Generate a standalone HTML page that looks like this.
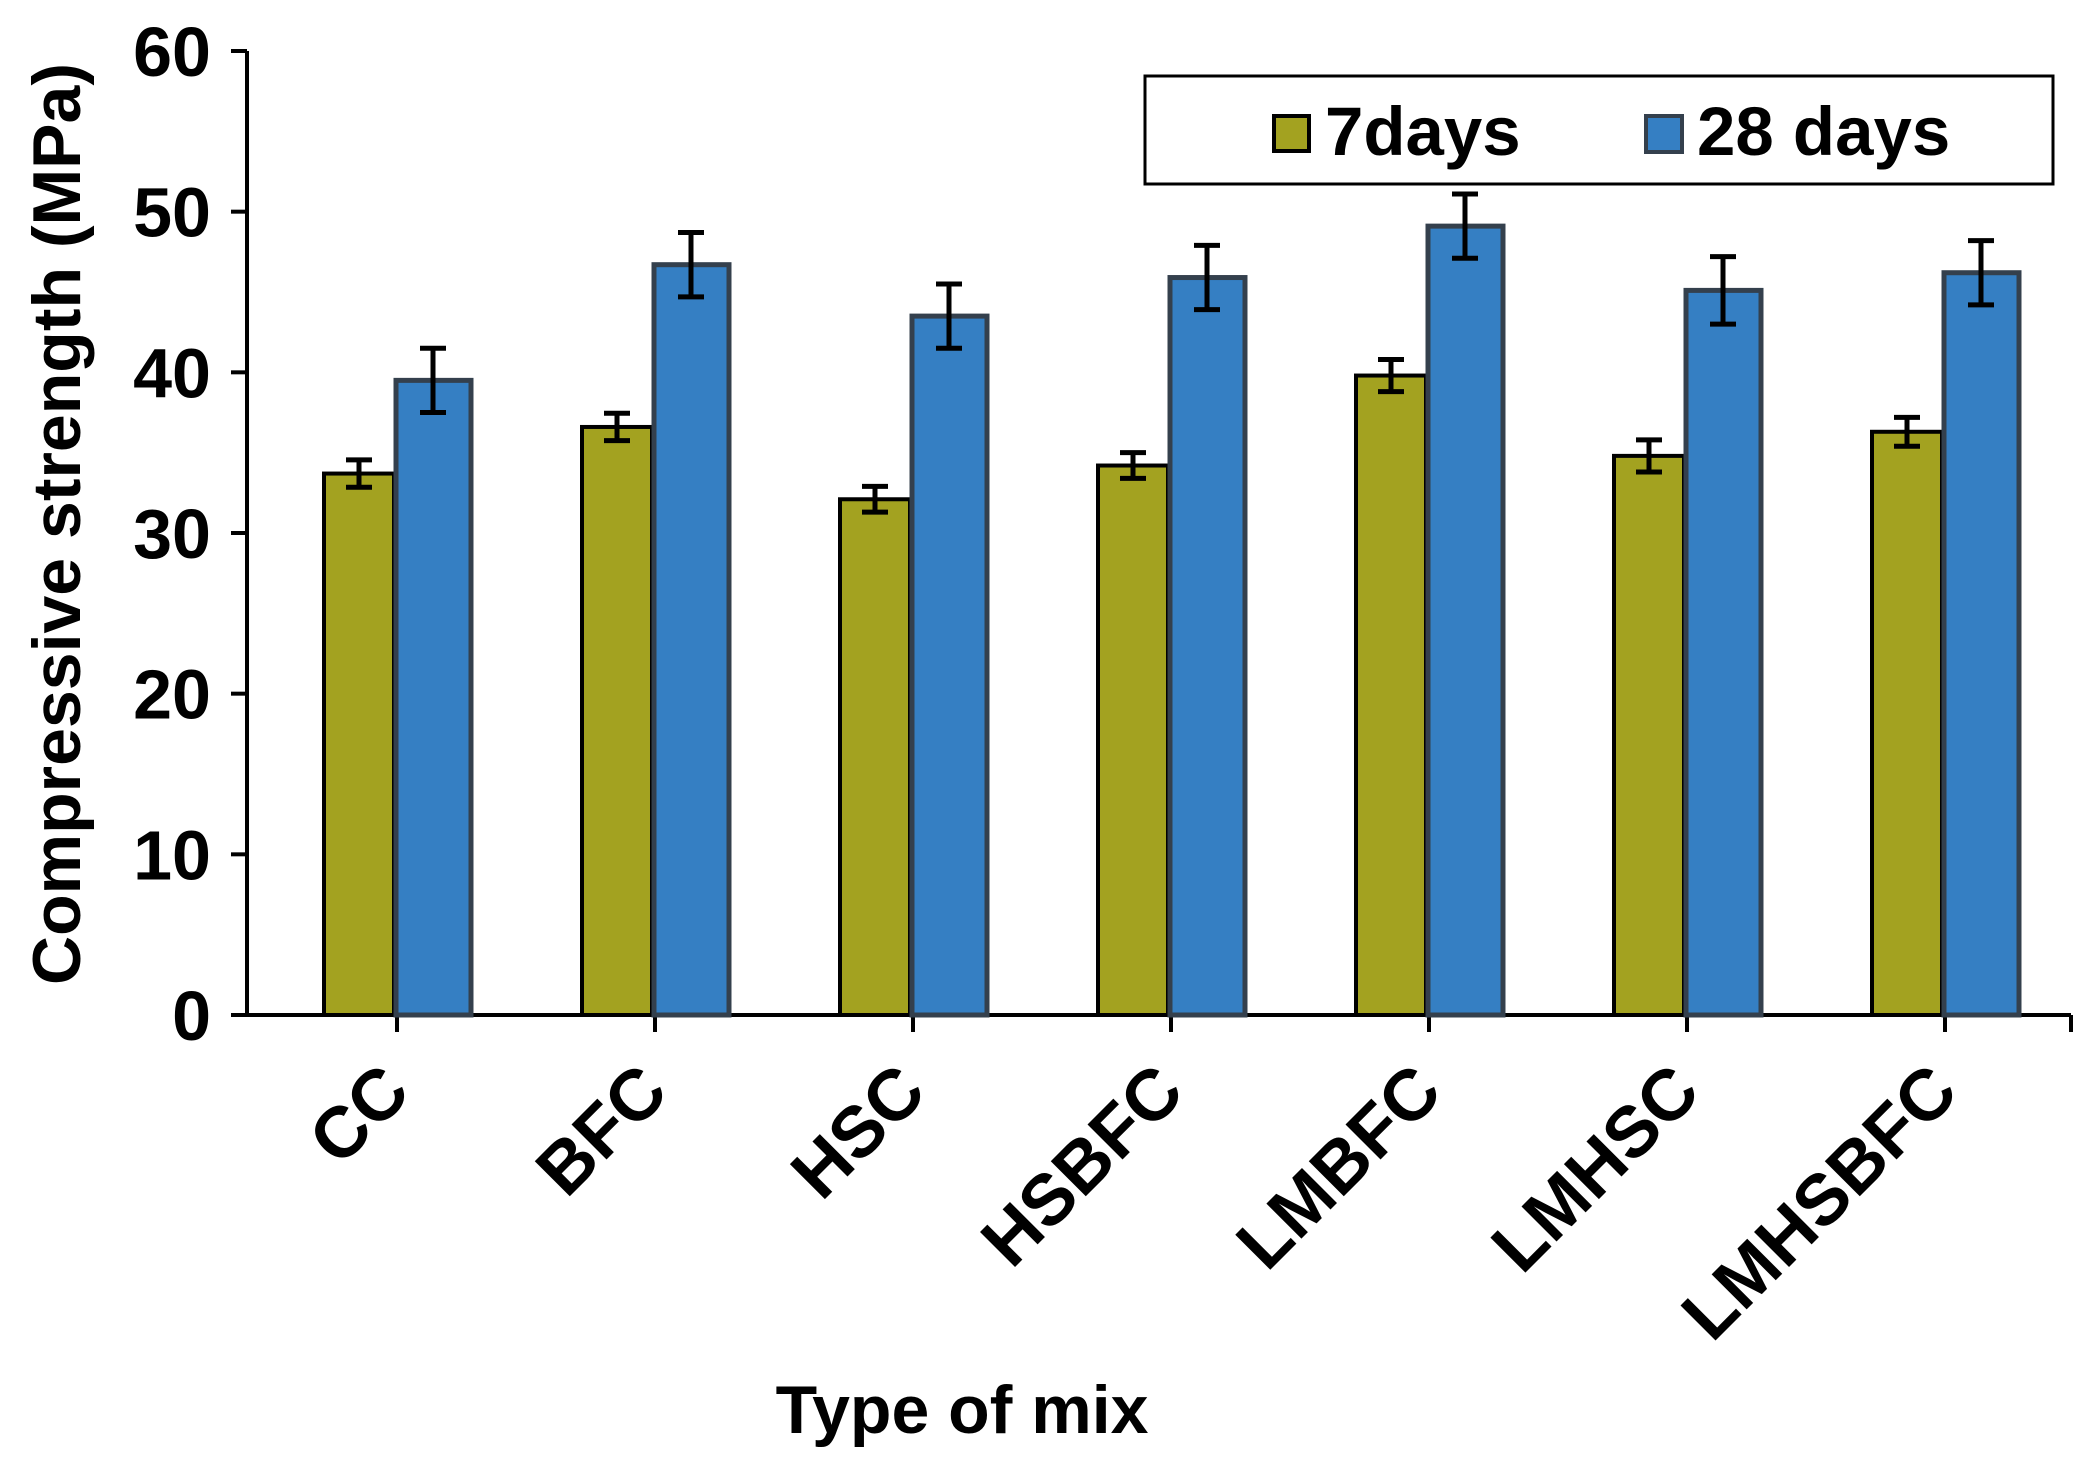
<!DOCTYPE html>
<html><head><meta charset="utf-8"><style>
body{margin:0;background:#fff}
svg{display:block}
text{font-family:"Liberation Sans",Arial,sans-serif;font-weight:bold;fill:#000}
</style></head><body>
<svg id="chart" width="2095" height="1474" viewBox="0 0 2095 1474">
<g id="axes"></g><g id="bars"></g><g id="labels"></g>
<g>
<rect x="1145" y="76" width="908" height="108" fill="#fff" stroke="#000" stroke-width="3"/>
<rect x="1274" y="116" width="35" height="35" fill="#a3a220" stroke="#000" stroke-width="4"/>
<text x="1325" y="155" font-size="69">7days</text>
<rect x="1646" y="116" width="36" height="36" fill="#357fc3" stroke="#34404d" stroke-width="4"/>
<text x="1697" y="155" font-size="69">28 days</text>
</g>
<text x="962" y="1433" font-size="68" text-anchor="middle">Type of mix</text>
<text transform="translate(80,524) rotate(-90)" font-size="68" text-anchor="middle">Compressive strength (MPa)</text>
</svg>
<script>
const categories=["CC","BFC","HSC","HSBFC","LMBFC","LMHSC","LMHSBFC"];
const days7=[33.7,36.6,32.1,34.2,39.8,34.8,36.3];
const err7=[0.85,0.85,0.8,0.8,1.0,1.0,0.9];
const days28=[39.5,46.7,43.5,45.9,49.1,45.1,46.2];
const err28=[2.0,2.0,2.0,2.0,2.0,2.1,2.0];
const yTicks=[0,10,20,30,40,50,60];

const NS="http://www.w3.org/2000/svg";
const X0=247,X1=2071,Y0=1015,Y1=51,YMAX=60;
const y=v=>Y0-(v/YMAX)*(Y0-Y1);
const xb=i=>397+i*258;
function mk(tag,attrs,parent){const e=document.createElementNS(NS,tag);for(const k in attrs)e.setAttribute(k,attrs[k]);document.getElementById(parent).appendChild(e);return e;}

yTicks.forEach(t=>{
  const l=mk('line',{x1:X0-16,x2:X0,y1:y(t),y2:y(t),stroke:'#000','stroke-width':4},'axes');
  
  
  const tx=mk('text',{x:211,y:y(t)+25,'font-size':70,'text-anchor':'end'},'labels');
  tx.textContent=t;
  
  
});

categories.forEach((c,i)=>{
  const b=xb(i);
  const g=mk('rect',{x:b-73,y:y(days7[i]),width:70,height:Y0-y(days7[i]),fill:'#a3a220',stroke:'#000','stroke-width':4},'bars');
  
  
  const bl=mk('rect',{x:b-1,y:y(days28[i]),width:75,height:Y0-y(days28[i]),fill:'#357fc3',stroke:'#34404d','stroke-width':5},'bars');
  
  
  [[b-38,days7[i],err7[i]],[b+36,days28[i],err28[i]]].forEach(([cx,v,e])=>{
    const p=mk('path',{d:`M${cx},${y(v+e)}V${y(v-e)}M${cx-13},${y(v+e)}h26M${cx-13},${y(v-e)}h26`,stroke:'#000','stroke-width':5,fill:'none'},'bars');
    
    
  });
  const tk=mk('line',{x1:b,x2:b,y1:Y0,y2:Y0+17,stroke:'#000','stroke-width':4},'axes');
  
  
  const tx=mk('text',{transform:`translate(${b+16},${y(0)+80}) rotate(-45)`,'font-size':72,'text-anchor':'end'},'labels');
  tx.textContent=c;
  
  
});
const ya=mk('line',{x1:X0,x2:X0,y1:Y1,y2:Y0+2,stroke:'#000','stroke-width':4},'axes');


const xa=mk('line',{x1:X0-16,x2:X1,y1:Y0,y2:Y0,stroke:'#000','stroke-width':4},'axes');


const te=mk('line',{x1:X1,x2:X1,y1:Y0,y2:Y0+17,stroke:'#000','stroke-width':4},'axes');


</script>
</body></html>
